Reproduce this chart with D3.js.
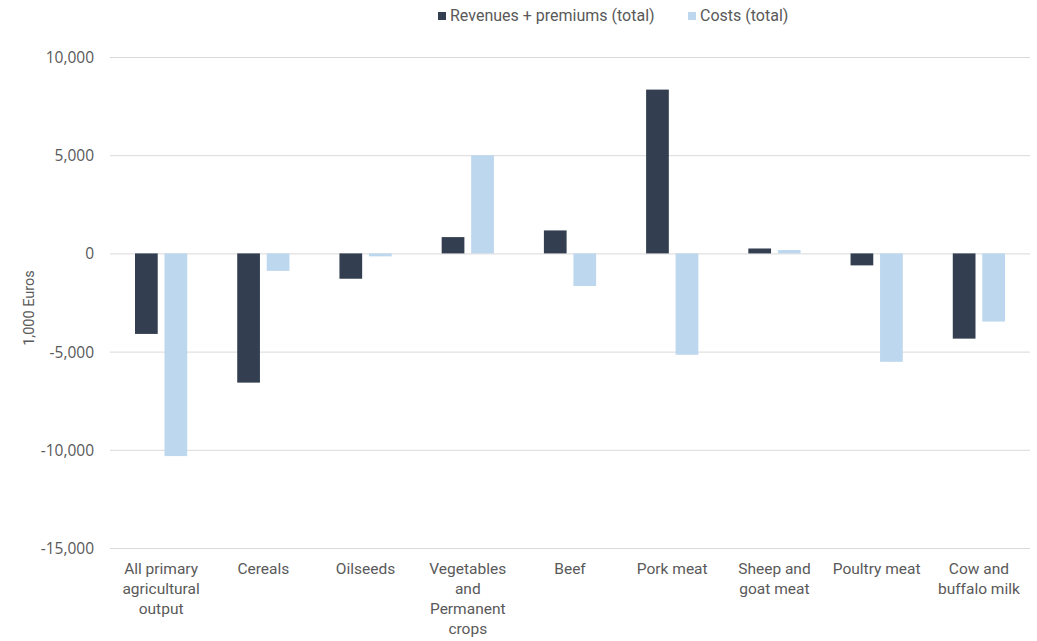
<!DOCTYPE html>
<html>
<head>
<meta charset="utf-8">
<script src="https://cdn.jsdelivr.net/npm/d3@7"></script>
<style>
  html, body { margin: 0; padding: 0; background: #ffffff; }
  svg { display: block; }
  text { font-family: "Roboto", "Open Sans", sans-serif; fill: #595959; }
</style>
</head>
<body>
<svg id="chart" width="1037" height="641"></svg>
<script>
// Change in revenues and costs by sector (1,000 Euros)
const categories = [
  ["All primary", "agricultural", "output"],
  ["Cereals"],
  ["Oilseeds"],
  ["Vegetables", "and", "Permanent", "crops"],
  ["Beef"],
  ["Pork meat"],
  ["Sheep and", "goat meat"],
  ["Poultry meat"],
  ["Cow and", "buffalo milk"]
];
const revenues = [-4100, -6580, -1290, 830, 1170, 8340, 250, -610, -4340];
const costs    = [-10320, -890, -150, 5000, -1660, -5160, 170, -5520, -3470];
const seriesNames = ["Revenues + premiums (total)", "Costs (total)"];
const seriesColors = ["#333f50", "#bdd7ee"];
const yTicks = [10000, 5000, 0, -5000, -10000, -15000];
const yLabel = "1,000 Euros";

const svg = d3.select("#chart");
const plotLeft = 110, plotRight = 1030, plotTop = 57, plotBottom = 548;

const x0 = d3.scaleBand().domain(d3.range(categories.length)).range([plotLeft, plotRight]).paddingInner(0).paddingOuter(0);
const x1 = d3.scaleBand().domain([0, 1]).range([25, x0.bandwidth() - 25]).paddingInner(0.23);
const y = d3.scaleLinear().domain([-15000, 10000]).range([plotBottom, plotTop]);

const locale = d3.formatLocale({ decimal: ".", thousands: ",", grouping: [3], currency: ["", ""], minus: "-" });

// gridlines and value labels
const yAxis = d3.axisLeft(y).tickValues(yTicks).tickFormat(locale.format(",")).tickSize(-(plotRight - plotLeft)).tickPadding(16);
const ga = svg.append("g").attr("transform", `translate(${plotLeft},0)`).call(yAxis);
ga.select(".domain").remove();
ga.selectAll(".tick line").attr("stroke", "#d9d9d9").attr("stroke-width", 1);
ga.selectAll(".tick text")
  .attr("font-family", null).attr("font-size", null)
  .style("font-family", "'Open Sans', sans-serif").style("font-size", "15.5px")
  .style("fill", "#595959").attr("dy", "0.35em");

// bars
const series = [revenues, costs];
series.forEach((vals, s) => {
  svg.append("g").selectAll("rect").data(vals).join("rect")
    .attr("x", (d, i) => x0(i) + x1(s))
    .attr("width", x1.bandwidth())
    .attr("y", d => y(Math.max(0, d)))
    .attr("height", d => Math.abs(y(d) - y(0)))
    .attr("fill", seriesColors[s]);
});

// category labels
const cl = svg.append("g");
categories.forEach((lines, i) => {
  const cx = x0(i) + x0.bandwidth() / 2;
  const t = cl.append("text").attr("text-anchor", "middle")
    .attr("x", cx).attr("y", 574).style("font-size", "15.5px");
  lines.forEach((ln, k) => t.append("tspan").attr("x", cx).attr("dy", k === 0 ? 0 : 20).text(ln));
});

// y axis title
svg.append("text").attr("transform", "translate(34,308) rotate(-90)")
  .attr("text-anchor", "middle").style("font-size", "14.5px").text(yLabel);

// legend
const lg = svg.append("g");
const legendX = [438, 688];
seriesNames.forEach((n, s) => {
  lg.append("rect").attr("x", legendX[s]).attr("y", 12).attr("width", 8).attr("height", 8).attr("fill", seriesColors[s]);
  lg.append("text").attr("x", legendX[s] + 12).attr("y", 21).style("font-size", "16px").text(n);
});
</script>
</body>
</html>
